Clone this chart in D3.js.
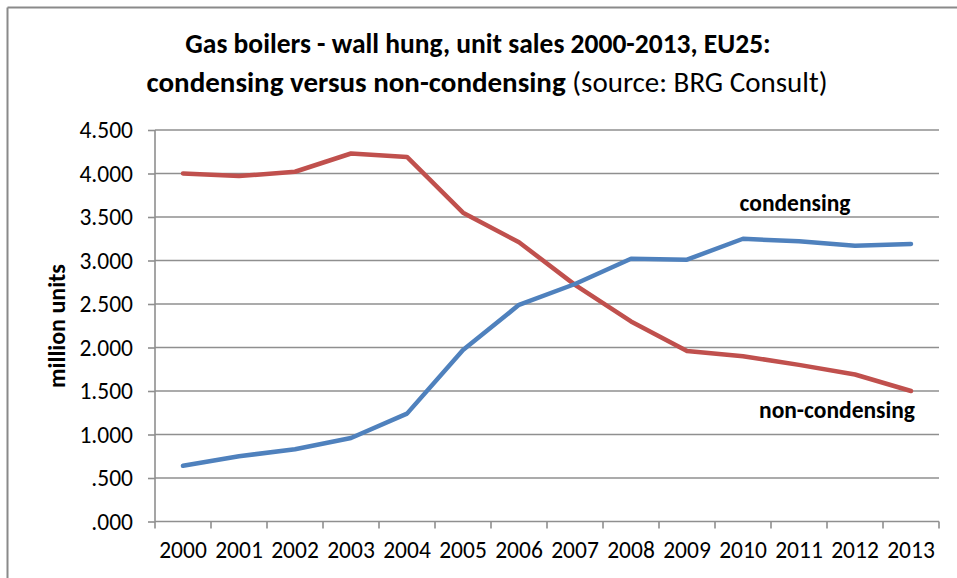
<!DOCTYPE html>
<html>
<head>
<meta charset="utf-8">
<script src="https://cdn.jsdelivr.net/npm/d3@7"></script>
<style>
  html, body { margin: 0; padding: 0; background: #fff; }
  svg { display: block; font-family: Carlito, Lato, sans-serif; }
</style>
</head>
<body>
<svg id="chart" width="957" height="578"></svg>
<script>
const years = ["2000","2001","2002","2003","2004","2005","2006","2007","2008","2009","2010","2011","2012","2013"];
const condensing = [0.64,0.75,0.83,0.96,1.24,1.97,2.49,2.73,3.02,3.01,3.25,3.22,3.17,3.19];
const nonCondensing = [4.00,3.97,4.02,4.23,4.19,3.55,3.21,2.72,2.30,1.96,1.90,1.80,1.69,1.50];
const yTickValues = [0,0.5,1,1.5,2,2.5,3,3.5,4,4.5];
const yTickLabels = [".000",".500","1.000","1.500","2.000","2.500","3.000","3.500","4.000","4.500"];
const titleLine1 = "Gas boilers - wall hung, unit sales 2000-2013, EU25:";
const titleLine2Bold = "condensing versus non-condensing";
const titleLine2Normal = " (source: BRG Consult)";
const yAxisTitle = "million units";
const seriesLabels = ["condensing", "non-condensing"];

(function () {
const svg = d3.select("#chart");
const W = 957, H = 578;
const pL = 155, pR = 939, pT = 130, pB = 521.5;
const FONT = "Carlito, Lato, sans-serif";

// outer frame (only left and top visible)
svg.append("line").attr("x1", 7.5).attr("x2", 7.5).attr("y1", 7.5).attr("y2", H)
  .attr("stroke", "#8a8a8a").attr("stroke-width", 2);
svg.append("line").attr("x1", 7.5).attr("x2", W).attr("y1", 7.5).attr("y2", 7.5)
  .attr("stroke", "#8a8a8a").attr("stroke-width", 2);

const x = d3.scaleBand().domain(years).range([pL, pR]);
const y = d3.scaleLinear().domain([0, 4.5]).range([pB, pT]);
const cx = d => x(d) + x.bandwidth() / 2;

// gridlines
svg.append("g").selectAll("line").data(yTickValues.filter(v => v > 0)).join("line")
  .attr("x1", pL).attr("x2", pR)
  .attr("y1", d => y(d)).attr("y2", d => y(d))
  .attr("stroke", "#8f8f8f").attr("stroke-width", 1.6);

// y axis
const yAxis = d3.axisLeft(y).tickValues(yTickValues)
  .tickFormat((d, i) => yTickLabels[i]).tickSize(7).tickPadding(15);
const gy = svg.append("g").attr("transform", `translate(${pL},0)`).call(yAxis);
gy.select(".domain").attr("stroke", "#8f8f8f").attr("stroke-width", 1.6)
  .attr("d", `M0,${pT}V${pB}`);
gy.selectAll(".tick line").attr("stroke", "#8f8f8f").attr("stroke-width", 1.6);
gy.selectAll("text").attr("font-size", 23.5).attr("fill", "#000")
  .style("font-family", FONT);

// x axis (labels centered, ticks on category boundaries)
const xAxis = d3.axisBottom(x).tickSize(0).tickPadding(20);
const gx = svg.append("g").attr("transform", `translate(0,${pB})`).call(xAxis);
gx.select(".domain").attr("stroke", "#8f8f8f").attr("stroke-width", 1.6)
  .attr("d", `M${pL},0H${pR}`);
gx.selectAll("text").attr("font-size", 23.5).attr("fill", "#000")
  .style("font-family", FONT);
const boundaries = years.map(d => x(d)).concat([x(years[years.length - 1]) + x.bandwidth()]);
gx.append("g").selectAll("line").data(boundaries).join("line")
  .attr("x1", d => d).attr("x2", d => d).attr("y1", 0).attr("y2", 7)
  .attr("stroke", "#8f8f8f").attr("stroke-width", 1.6);

// lines
const line = d3.line().x((d, i) => cx(years[i])).y(d => y(d));
svg.append("path").datum(nonCondensing).attr("d", line)
  .attr("fill", "none").attr("stroke", "#C0504D").attr("stroke-width", 4.5)
  .attr("stroke-linejoin", "round").attr("stroke-linecap", "round");
svg.append("path").datum(condensing).attr("d", line)
  .attr("fill", "none").attr("stroke", "#4F81BD").attr("stroke-width", 4.5)
  .attr("stroke-linejoin", "round").attr("stroke-linecap", "round");

// series labels
svg.append("text").attr("x", 795).attr("y", 211).attr("text-anchor", "middle")
  .attr("font-size", 23.5).attr("font-weight", "bold").text(seriesLabels[0]);
svg.append("text").attr("x", 837).attr("y", 418).attr("text-anchor", "middle")
  .attr("font-size", 23.5).attr("font-weight", "bold").text(seriesLabels[1]);

// y axis title
svg.append("text").attr("transform", "translate(65,326) rotate(-90)")
  .attr("text-anchor", "middle").attr("font-size", 24).attr("font-weight", "bold")
  .text(yAxisTitle);

// title
svg.append("text").attr("x", 478).attr("y", 53).attr("text-anchor", "middle")
  .attr("font-size", 27.5).attr("font-weight", "bold").text(titleLine1);
const t2 = svg.append("text").attr("x", 487).attr("y", 92).attr("text-anchor", "middle")
  .attr("font-size", 29);
t2.append("tspan").attr("font-weight", "bold").text(titleLine2Bold);
t2.append("tspan").text(titleLine2Normal);
})();
</script>
</body>
</html>
